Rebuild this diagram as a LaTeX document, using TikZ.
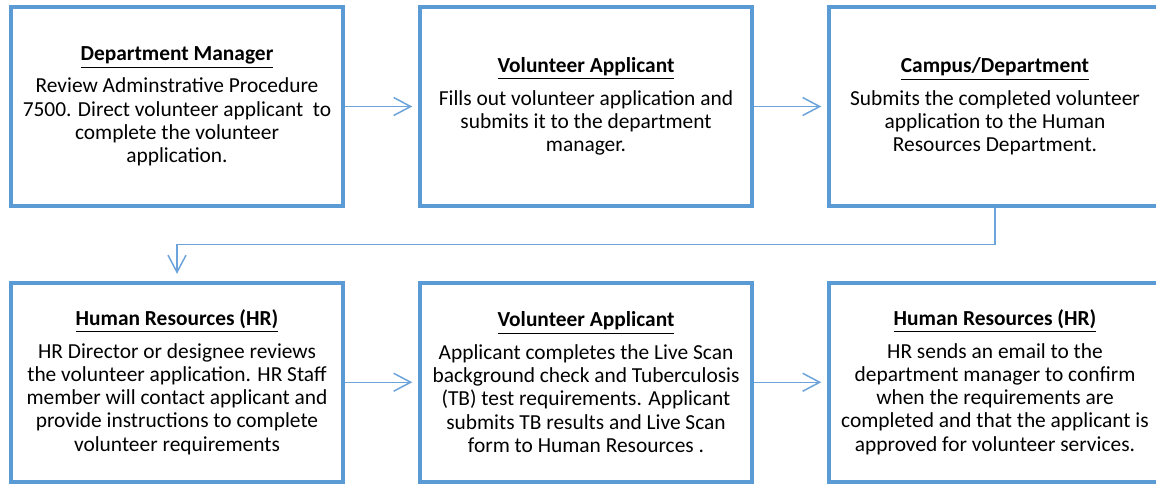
\documentclass[tikz,border=0pt]{standalone}
\usepackage{fontspec}
\setmainfont{Carlito}
\usetikzlibrary{arrows.meta,calc}
\definecolor{boxblue}{RGB}{91,155,213}
\definecolor{lineblue}{RGB}{107,163,218}
\tikzstyle{stepbox}=[rectangle,draw=boxblue,line width=2pt,fill=white,minimum width=166.25pt,minimum height=99.5pt,inner sep=0pt,align=center,font=\fontsize{10.7pt}{11.65pt}\selectfont]
\tikzstyle{flowedge}=[draw=lineblue,line width=0.75pt,-{Straight Barb[length=8.5pt,width=9pt]},shorten >=2.75pt]
\newcommand{\steptitle}[1]{\textbf{\underline{#1}}\\[4.5pt]}

\begin{document}
\begin{tikzpicture}[x=0.5pt,y=0.5pt]

    \useasboundingbox (0,0) rectangle (1156,-483);

    \def\a{177};
    \def\b{586};
    \def\c{995};
    \def\r{-106.5};
    \def\s{-382.25};

%row 1
    \node[stepbox] (manager) at (\a,\r) {\steptitle{Department Manager}
        Review Adminstrative Procedure\\ 7500. Direct volunteer applicant\ \ to\\ complete the volunteer\\ application.};
    \node[stepbox] (applicant) at (\b,\r) {\steptitle{Volunteer Applicant}
        Fills out volunteer application and\\ submits it to the department\\ manager.};
    \node[stepbox] (campus) at (\c,\r) {\steptitle{Campus/Department}
        Submits the completed volunteer\\ application to the Human\\ Resources Department.};

%row 2
    \node[stepbox] (hrreview) at (\a,\s) {\steptitle{Human Resources (HR)}
        HR Director or designee reviews\\ the volunteer application. HR Staff\\ member will contact applicant and\\ provide instructions to complete\\ volunteer requirements};
    \node[stepbox] (livescan) at (\b,\s) {\steptitle{Volunteer Applicant}
        Applicant completes the Live Scan\\ background check and Tuberculosis\\ (TB) test requirements. Applicant\\ submits TB results and Live Scan\\ form to Human Resources .};
    \node[stepbox] (hrconfirm) at (\c,\s) {\steptitle{Human Resources (HR)}
        HR sends an email to the\\ department manager to confirm\\ when the requirements are\\ completed and that the applicant is\\ approved for volunteer services.};

 % Edges
    \foreach \source/ \dest in {manager/applicant, applicant/campus, hrreview/livescan, livescan/hrconfirm}
        \path[flowedge] (\source) -- (\dest);

    \path[flowedge,shorten >=3.5pt] (campus.south) |- ($(campus.south)!0.5!(hrreview.north)$) -| (hrreview.north);

\end{tikzpicture}
\end{document}
